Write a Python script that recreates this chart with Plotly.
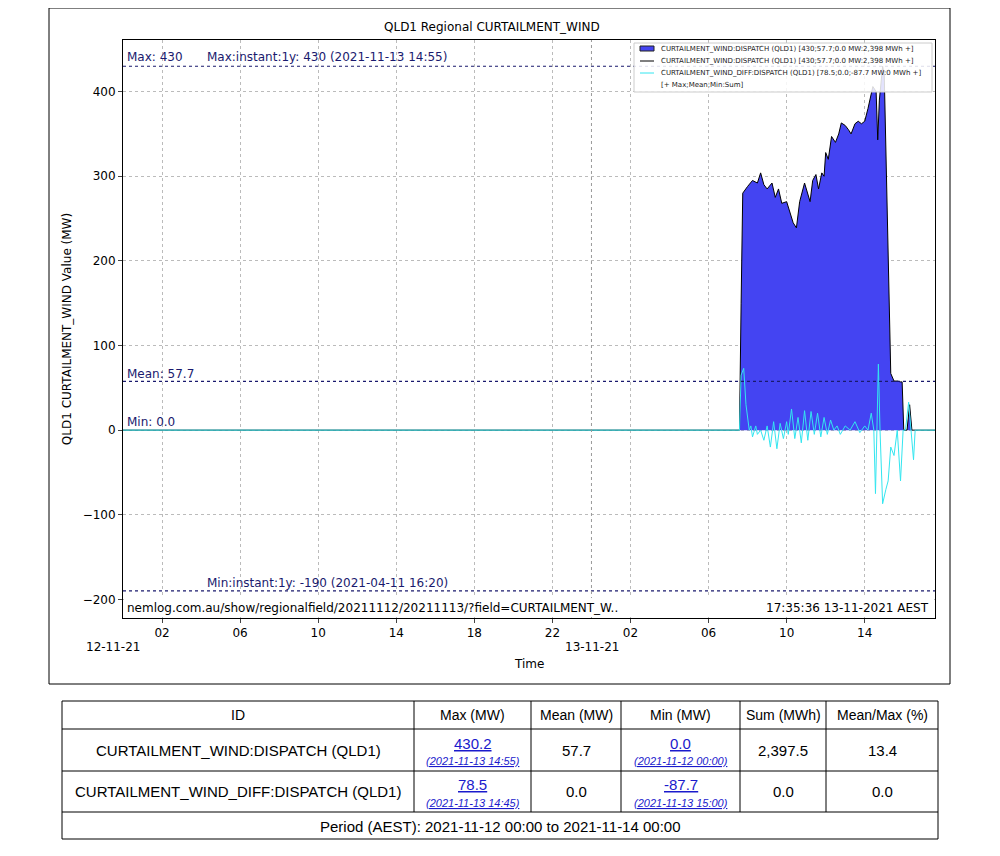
import plotly.graph_objects as go

W, H = 1000, 856
def px(x): return (x - 8) / W
def py(y): return 1 - (y - 8) / H

disp_t = ["2021-11-12 00:00"] + ["2021-11-13 " + t for t in [
 "07:35","07:40","07:45","08:00","08:15","08:30","08:40","08:50","09:00","09:15","09:25","09:35","09:45",
 "10:00","10:10","10:20","10:30","10:40","10:55","11:05","11:12","11:20","11:30","11:38","11:48","11:55",
 "12:00","12:08","12:18","12:30","12:40","12:48","13:00","13:10","13:18","13:30","13:40","13:50","14:00",
 "14:10","14:20","14:25","14:35","14:40","14:45","14:55","15:00","15:10","15:20","15:30","15:40","15:50",
 "15:55","16:00","16:10","16:18","16:25","17:36"]]
disp_v = [0, 0,150,280,288,295,292,304,290,285,292,275,285,268,
 270,258,245,239,270,292,280,270,295,302,285,304,300,
 328,320,347,340,350,363,360,355,350,362,365,362,365,
 380,395,406,400,343,390,430,420,250,67,58,58,57,
 57,0,0,30,0,0]

diff_t = ["2021-11-12 00:00"] + ["2021-11-13 " + t for t in [
 "07:35","07:40","07:48","07:55","08:05","08:10","08:15","08:25","08:30","08:40","08:50","09:00","09:10",
 "09:20","09:30","09:40","09:50","10:00","10:05","10:15","10:25","10:35","10:45","10:55","11:05","11:15",
 "11:25","11:35","11:45","11:55","12:05","12:15","12:25","12:35","12:45","13:00","13:15","13:30","13:45",
 "14:00","14:10","14:20","14:28","14:33","14:42","14:47","14:55","15:05","15:12","15:20","15:30","15:40",
 "15:50","15:58","16:05","16:15","16:22","16:30","16:35","17:36"]]
diff_v = [0, 0,65,73,30,0,5,-8,5,-5,0,-12,5,-20,
 10,-22,8,-10,10,-5,25,-10,15,-15,23,-12,22,
 -5,20,-8,15,-5,12,0,5,-5,5,0,10,-3,
 5,0,20,0,-75,78,0,-87,-70,-60,-20,-30,0,
 -60,0,0,33,0,-35,0,0]

tick_vals = ["2021-11-12 02:00","2021-11-12 06:00","2021-11-12 10:00","2021-11-12 14:00","2021-11-12 18:00",
             "2021-11-12 22:00","2021-11-13 02:00","2021-11-13 06:00","2021-11-13 10:00","2021-11-13 14:00"]
tick_text = ["02","06","10","14","18","22","02","06","10","14"]

legend_labels = ["CURTAILMENT_WIND:DISPATCH (QLD1) [430;57.7;0.0 MW:2,398 MWh +]",
                 "CURTAILMENT_WIND:DISPATCH (QLD1) [430;57.7;0.0 MW:2,398 MWh +]",
                 "CURTAILMENT_WIND_DIFF:DISPATCH (QLD1) [78.5;0.0;-87.7 MW:0 MWh +]",
                 "[+ Max;Mean;Min:Sum]"]

table_header = ["ID","Max (MW)","Mean (MW)","Min (MW)","Sum (MWh)","Mean/Max (%)"]
table_rows = [
 ["CURTAILMENT_WIND:DISPATCH (QLD1)", ("430.2","2021-11-13 14:55"), "57.7", ("0.0","2021-11-12 00:00"), "2,397.5", "13.4"],
 ["CURTAILMENT_WIND_DIFF:DISPATCH (QLD1)", ("78.5","2021-11-13 14:45"), "0.0", ("-87.7","2021-11-13 15:00"), "0.0", "0.0"],
]
period_text = "Period (AEST): 2021-11-12 00:00 to 2021-11-14 00:00"

fig = go.Figure()
fig.add_trace(go.Scatter(x=disp_t, y=disp_v, fill="tozeroy", fillcolor="rgb(68,68,242)",
                         line=dict(color="black", width=1), mode="lines", showlegend=False))
fig.add_trace(go.Scatter(x=diff_t, y=diff_v, line=dict(color="#33e6f0", width=1), mode="lines", showlegend=False))

shapes, ann = [], []
F = "DejaVu Sans"
TF = "Liberation Sans"
shapes.append(dict(type="rect", xref="paper", yref="paper", x0=px(49), x1=px(950), y0=py(684), y1=py(8),
                   line=dict(color="black", width=1)))
for v in [430, 57.7, -190]:
    shapes.append(dict(type="line", xref="paper", yref="y", x0=px(123), x1=px(935), y0=v, y1=v,
                       line=dict(color="#1a1a6e", width=1.2, dash="dot")))
shapes.append(dict(type="line", xref="x", yref="paper", x0="2021-11-13 00:00", x1="2021-11-13 00:00",
                   y0=py(618), y1=py(40), line=dict(color="#999", width=1, dash="dot")))
def t(x, y, s, size=12, color="black", xa="left", ya="middle", fam=F):
    ann.append(dict(xref="paper", yref="paper", x=px(x), y=py(y), text=s, showarrow=False,
                    xanchor=xa, yanchor=ya, font=dict(family=fam, size=size, color=color)))
navy = "#1a1a6e"
t(125, 57, "Max: 430", 12, navy)
t(205, 57, "Max:instant:1y: 430 (2021-11-13 14:55)", 12, navy)
t(125, 374, "Mean: 57.7", 12, navy)
t(125, 422, "Min: 0.0", 12, navy)
t(205, 583, "Min:instant:1y: -190 (2021-04-11 16:20)", 12, navy)
shapes.append(dict(type="rect", xref="paper", yref="paper", x0=px(124), x1=px(934), y0=py(617), y1=py(598),
                   fillcolor="white", line=dict(width=0)))
t(125, 608, "nemlog.com.au/show/regionalfield/20211112/20211113/?field=CURTAILMENT_W..", 12)
t(931, 608, "17:35:36 13-11-2021 AEST", 12, xa="right")
t(492, 27, "QLD1 Regional CURTAILMENT_WIND", 12, xa="center")
t(529, 664, "Time", 12, xa="center")
t(113, 647, "12-11-21", 12, xa="center")
t(592, 647, "13-11-21", 12, xa="center")
shapes.append(dict(type="rect", xref="paper", yref="paper", x0=px(634), x1=px(932), y0=py(92), y1=py(43),
                   fillcolor="rgba(255,255,255,0.85)", line=dict(color="#ccc", width=1)))
shapes.append(dict(type="rect", xref="paper", yref="paper", x0=px(640), x1=px(654), y0=py(51), y1=py(46),
                   fillcolor="rgb(68,68,242)", line=dict(color="#222", width=1)))
shapes.append(dict(type="line", xref="paper", yref="paper", x0=px(640), x1=px(654), y0=py(61), y1=py(61),
                   line=dict(color="black", width=1)))
shapes.append(dict(type="line", xref="paper", yref="paper", x0=px(640), x1=px(654), y0=py(73), y1=py(73),
                   line=dict(color="#33e6f0", width=1)))
for i, s in enumerate(legend_labels):
    t(659, 49 + i * 12, s, 7, "#222")
cols = [62, 414, 531, 621, 740, 826, 938]
rows = [701, 729, 771, 812, 839]
shapes.append(dict(type="rect", xref="paper", yref="paper", x0=px(62), x1=px(938), y0=py(839), y1=py(701),
                   line=dict(color="black", width=1)))
for r in rows[1:-1]:
    shapes.append(dict(type="line", xref="paper", yref="paper", x0=px(62), x1=px(938), y0=py(r), y1=py(r),
                       line=dict(color="black", width=1)))
for c in cols[1:-1]:
    shapes.append(dict(type="line", xref="paper", yref="paper", x0=px(c), x1=px(c), y0=py(812), y1=py(701),
                       line=dict(color="black", width=1)))
for j, h in enumerate(table_header):
    t((cols[j] + cols[j + 1]) / 2, 715, h, 14, xa="center", fam=TF)
link = "#1a1acc"
for i, row in enumerate(table_rows):
    yc = (rows[i + 1] + rows[i + 2]) / 2
    for j, cell in enumerate(row):
        xc = (cols[j] + cols[j + 1]) / 2
        if isinstance(cell, tuple):
            t(xc, yc - 7, "<u>%s</u>" % cell[0], 15, link, xa="center", fam=TF)
            t(xc, yc + 11, "<i><u>(%s)</u></i>" % cell[1], 11, link, xa="center", fam=TF)
        else:
            t(xc, yc, cell, 15, xa="center", fam=TF)
t(500, 826, period_text, 15, xa="center", fam=TF)

fig.update_layout(
    width=W, height=H, margin=dict(l=0, r=0, t=0, b=0), paper_bgcolor="white", plot_bgcolor="white",
    shapes=shapes, annotations=ann, font=dict(family=F, size=12, color="black"),
    xaxis=dict(domain=[px(123), px(935)], type="date", range=["2021-11-12 00:00", "2021-11-13 17:36"],
               tickvals=tick_vals, ticktext=tick_text, showgrid=True, gridcolor="#bbb", griddash="dot",
               ticks="outside", ticklen=4, showline=True, linecolor="black", mirror=True, zeroline=False,
               tickfont=dict(size=12)),
    yaxis=dict(domain=[py(618), py(40)], range=[-222, 461], tickvals=[-200, -100, 0, 100, 200, 300, 400],
               showgrid=True, gridcolor="#bbb", griddash="dot", ticks="outside", ticklen=4, showline=True,
               linecolor="black", mirror=True, zeroline=False, tickfont=dict(size=12),
               title=dict(text="QLD1 CURTAILMENT_WIND Value (MW)", font=dict(size=12), standoff=8)),
)
fig.write_html("out.html")
